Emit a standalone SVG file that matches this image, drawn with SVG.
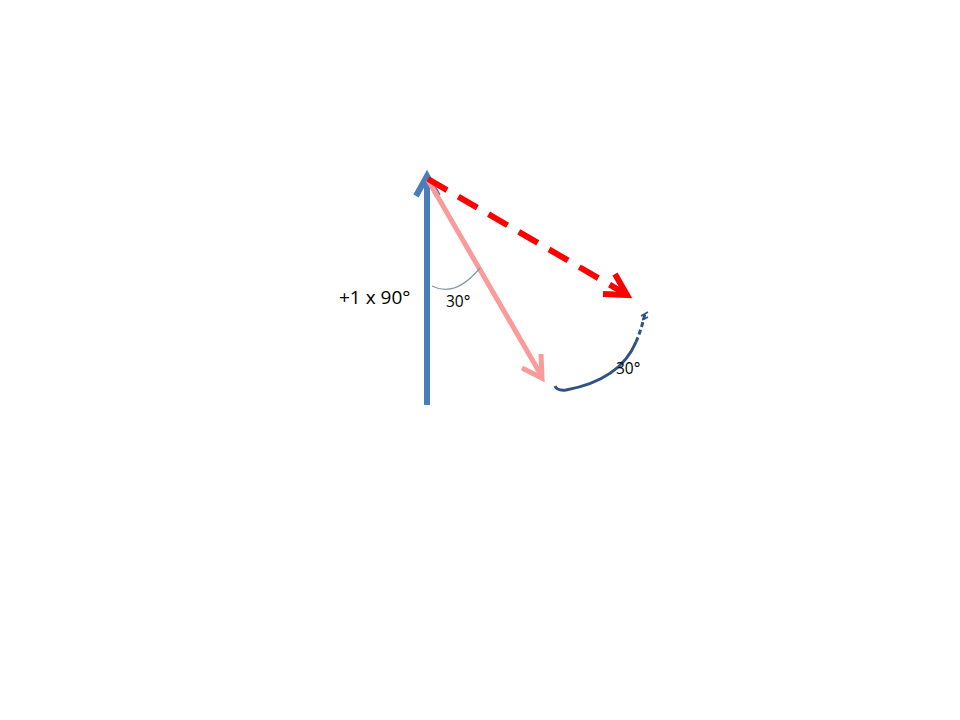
<svg xmlns="http://www.w3.org/2000/svg" width="960" height="720" viewBox="0 0 960 720">
<style>
.lbl{font-family:"Open Sans","Liberation Sans",sans-serif;fill:#000}
</style>
<rect width="960" height="720" fill="#fff"/>
<g id="connectors" fill="none" stroke-linecap="butt">
  <g id="blue-vector">
    <line x1="427" y1="405" x2="427" y2="178" stroke="#4a7ebb" stroke-width="6"/>
    <polyline points="416,196 427,176 438,196" stroke="#4a7ebb" stroke-width="6" stroke-linejoin="miter"/>
  </g>
  <g id="pink-vector">
    <line x1="428" y1="180" x2="541" y2="375" stroke="#f99b9b" stroke-width="5"/>
    <polyline points="522,368 542,378 541,354" stroke="#f99b9b" stroke-width="5"/>
  </g>
  <g id="red-vector">
    <line x1="428" y1="179" x2="624" y2="293" stroke="#ff0000" stroke-width="6" stroke-dasharray="22,13"/>
    <polyline points="603,294 627,295 615,274" stroke="#ff0000" stroke-width="6"/>
  </g>
  <g id="rotation-arc">
    <path d="M555,386 Q557,391 566,390 Q620,380 636,342" stroke="#2f5283" stroke-width="3"/>
    <path d="M636,342 Q642,328 645,313" stroke="#2f5283" stroke-width="3" stroke-dasharray="5,3"/>
    <path d="M641,316 L648,312 M642,320 L648,317" stroke="#2f5283" stroke-width="1.5"/>
  </g>
  <path id="angle-arc" d="M432,286 Q455,298 480,268" stroke="#8a9aa8" stroke-width="1.2"/>
</g>
<g id="labels">
  <text class="lbl" x="339" y="304" font-size="19">+1 x 90°</text>
  <text class="lbl" x="446" y="307" font-size="15.5">30°</text>
  <text class="lbl" x="616" y="374" font-size="15.5">30°</text>
</g>
</svg>
